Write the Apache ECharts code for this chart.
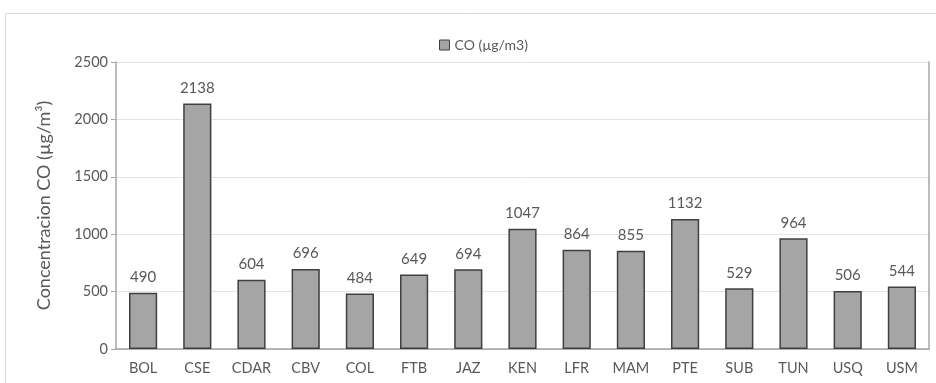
<!DOCTYPE html>
<html>
<head>
<meta charset="utf-8">
<script src="https://cdn.jsdelivr.net/npm/echarts@6/dist/echarts.min.js"></script>
<style>
  html, body { margin: 0; padding: 0; background: #fff; }
  #chart { width: 936px; height: 383px; }
</style>
</head>
<body>
<div id="chart"></div>
<script>
// Monitoring stations and mean CO concentration at each one
const stations = ['BOL', 'CSE', 'CDAR', 'CBV', 'COL', 'FTB', 'JAZ', 'KEN', 'LFR', 'MAM', 'PTE', 'SUB', 'TUN', 'USQ', 'USM'];
const coValues = [490, 2138, 604, 696, 484, 649, 694, 1047, 864, 855, 1132, 529, 964, 506, 544];
const yTicks = [0, 500, 1000, 1500, 2000, 2500];

const FONT = 'Lato, "Open Sans", sans-serif';
const TXT = '#595959';

const chart = echarts.init(document.getElementById('chart'));
chart.setOption({
  animation: false,
  textStyle: { fontFamily: FONT },
  graphic: [{
    type: 'rect',
    shape: { x: 5.5, y: 13.5, width: 940, height: 380 },
    style: { fill: 'none', stroke: '#d9d9d9', lineWidth: 1 },
    silent: true
  }],
  legend: {
    top: 33,
    left: 434,
    icon: 'rect',
    itemWidth: 10,
    itemHeight: 10,
    itemGap: 4,
    textStyle: { color: TXT, fontSize: 14, fontFamily: FONT },
    data: [{ name: 'CO (µg/m3)', itemStyle: { color: '#a5a5a5', borderColor: '#404040', borderWidth: 1 } }]
  },
  grid: { left: 116, right: 7, top: 62, bottom: 34 },
  xAxis: [{
    type: 'category',
    data: stations,
    axisLine: { lineStyle: { color: '#c8c8c8', width: 1 } },
    axisTick: { show: false },
    axisLabel: { color: TXT, fontSize: 14.5, margin: 12, fontFamily: FONT }
  }, {
    type: 'category',
    position: 'top',
    data: stations,
    axisLine: { lineStyle: { color: '#a6a6a6', width: 1.5 } },
    axisTick: { show: false },
    axisLabel: { show: false }
  }],
  yAxis: [{
    type: 'value',
    min: yTicks[0],
    max: yTicks[yTicks.length - 1],
    interval: 500,
    name: 'Concentracion CO (µg/m³)',
    nameLocation: 'middle',
    nameGap: 63,
    nameTextStyle: { color: TXT, fontSize: 18, fontFamily: FONT },
    axisLine: { show: true, lineStyle: { color: '#a6a6a6', width: 1.5 } },
    axisTick: { show: true, length: 5, lineStyle: { color: '#a6a6a6' } },
    axisLabel: { color: TXT, fontSize: 14.5, margin: 8, fontFamily: FONT, formatter: v => String(v) },
    splitLine: { lineStyle: { color: '#e4e4e4', width: 1 } }
  }, {
    type: 'value',
    position: 'right',
    min: yTicks[0],
    max: yTicks[yTicks.length - 1],
    interval: 500,
    axisLine: { show: true, lineStyle: { color: '#a6a6a6', width: 1.5 } },
    axisTick: { show: false },
    axisLabel: { show: false },
    splitLine: { show: false }
  }],
  series: [{
    name: 'CO (µg/m3)',
    type: 'bar',
    data: coValues,
    barWidth: '52%',
    itemStyle: { color: '#a5a5a5', borderColor: '#404040', borderWidth: 1.5 },
    label: {
      show: true,
      position: 'top',
      distance: 8,
      color: TXT,
      fontSize: 15,
      fontFamily: FONT
    }
  }]
});
</script>
</body>
</html>
